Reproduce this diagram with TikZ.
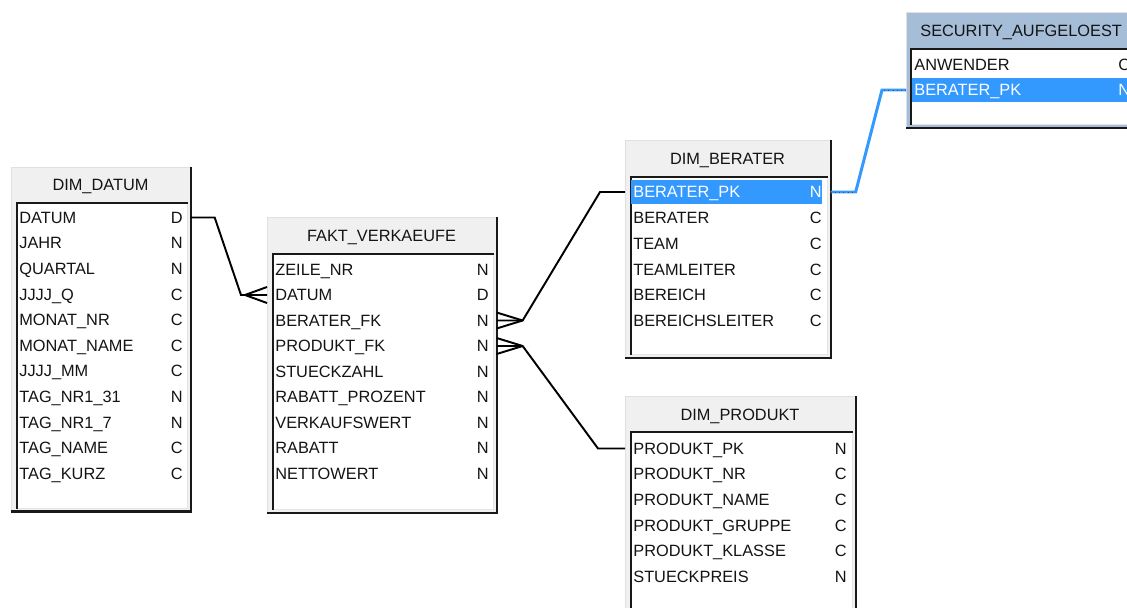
\documentclass[tikz,border=0pt]{standalone}
\usepackage{fontspec}
\setmainfont{Liberation Sans}
\usetikzlibrary{calc,positioning}
\definecolor{selblue}{HTML}{3399FF}
\definecolor{headgray}{HTML}{F0F0F0}
\definecolor{headblue}{HTML}{A6BDD7}

\begin{document}
\begin{tikzpicture}[
    x=0.02cm, y=-0.02cm,
    font=\fontsize{9.3}{11}\selectfont,
    tframe/.style={draw=black!12, fill=headgray, anchor=north west, inner sep=0pt},
    tbody/.style={draw=black!10, fill=white, anchor=north west, inner sep=0pt},
    thead/.style={inner sep=0pt, text height=8pt, text depth=1.4pt, text=black!92},
    field/.style={anchor=west, inner sep=0pt, text height=8pt, text depth=1.4pt, text=black!92},
    ftype/.style={field, anchor=east},
    edge3d/.style={line width=1.3pt, draw=black!90},
    link/.style={line width=1.1pt, draw=black},
    sellink/.style={line width=1.7pt, draw=selblue}
]
\clip (0,0) rectangle (1127,608);
\fill[white] (0,0) rectangle (1127,608);

% DIM_DATUM
\node[tframe, minimum width=3.58cm, minimum height=6.88cm] (datum) at (11,167) {};
\node[tbody, minimum width=3.4cm, minimum height=6.1cm] (datum-b) at (17,203) {};
\draw[edge3d] (datum.north east) |- (datum.south west);
\draw[edge3d] (datum-b.south west) |- (datum-b.north east);
\node[thead] (datum-h) at (100.5,185) {DIM\_DATUM};
\foreach \fname/\ftype [count=\i] in {DATUM/D, JAHR/N, QUARTAL/N, JJJJ\_Q/C, MONAT\_NR/C, MONAT\_NAME/C, JJJJ\_MM/C, TAG\_NR1\_31/N, TAG\_NR1\_7/N, TAG\_NAME/C, TAG\_KURZ/C} {
  \node[field] (datum-r\i) at (19,{217.5+25.6*(\i-1)}) {\fname};
  \node[ftype] (datum-t\i) at (183,{217.5+25.6*(\i-1)}) {\ftype};
}

% FAKT_VERKAEUFE
\node[tframe, minimum width=4.58cm, minimum height=5.9cm] (fakt) at (267,217) {};
\node[tbody, minimum width=4.4cm, minimum height=5.1cm] (fakt-b) at (273,254) {};
\draw[edge3d] (fakt.north east) |- (fakt.south west);
\draw[edge3d] (fakt-b.south west) |- (fakt-b.north east);
\node[thead] (fakt-h) at (381.5,236) {FAKT\_VERKAEUFE};
\foreach \fname/\ftype [count=\i] in {ZEILE\_NR/N, DATUM/D, BERATER\_FK/N, PRODUKT\_FK/N, STUECKZAHL/N, RABATT\_PROZENT/N, VERKAUFSWERT/N, RABATT/N, NETTOWERT/N} {
  \node[field] (fakt-r\i) at (275,{269.5+25.5*(\i-1)}) {\fname};
  \node[ftype] (fakt-t\i) at (489,{269.5+25.5*(\i-1)}) {\ftype};
}

% DIM_BERATER
\node[tframe, minimum width=4.1cm, minimum height=4.34cm] (berater) at (625,140) {};
\node[tbody, minimum width=3.92cm, minimum height=3.54cm] (berater-b) at (631,177) {};
\draw[edge3d] (berater.north east) |- (berater.south west);
\draw[edge3d] (berater-b.south west) |- (berater-b.north east);
\node[thead] (berater-h) at (727.5,159) {DIM\_BERATER};
\fill[selblue] (631,180) rectangle (822,204);
\node[field, text=white] (berater-r1) at (633,192) {BERATER\_PK};
\node[ftype, text=white] (berater-t1) at (822,192) {N};
\foreach \fname/\ftype [count=\i from 2] in {BERATER/C, TEAM/C, TEAMLEITER/C, BEREICH/C, BEREICHSLEITER/C} {
  \node[field] (berater-r\i) at (633,{192.5+25.6*(\i-1)}) {\fname};
  \node[ftype] (berater-t\i) at (822,{192.5+25.6*(\i-1)}) {\ftype};
}

% DIM_PRODUKT
\node[tframe, minimum width=4.6cm, minimum height=4.8cm] (produkt) at (625,396) {};
\node[tbody, minimum width=4.42cm, minimum height=4.0cm] (produkt-b) at (631,432) {};
\draw[edge3d] (produkt.north east) |- (produkt.south west);
\draw[edge3d] (produkt-b.south west) |- (produkt-b.north east);
\node[thead] (produkt-h) at (740,415) {DIM\_PRODUKT};
\foreach \fname/\ftype [count=\i] in {PRODUKT\_PK/N, PRODUKT\_NR/C, PRODUKT\_NAME/C, PRODUKT\_GRUPPE/C, PRODUKT\_KLASSE/C, STUECKPREIS/N} {
  \node[field] (produkt-r\i) at (633,{448.5+25.6*(\i-1)}) {\fname};
  \node[ftype] (produkt-t\i) at (847,{448.5+25.6*(\i-1)}) {\ftype};
}

% SECURITY_AUFGELOEST
\node[tframe, fill=headblue, minimum width=5.2cm, minimum height=2.3cm] (security) at (906,12) {};
\node[tbody, minimum width=5.0cm, minimum height=1.5cm] (security-b) at (911,49) {};
\draw[edge3d] (security.north east) |- (security.south west);
\draw[edge3d] (security-b.south west) |- (security-b.north east);
\node[thead, anchor=west] (security-h) at (920,31) {SECURITY\_AUFGELOEST};
\fill[selblue] (912,78) rectangle (1150,102);
\node[field] (security-r1) at (914,64.5) {ANWENDER};
\node[field] (security-t1) at (1118,64.5) {C};
\node[field, text=white] (security-r2) at (914,90) {BERATER\_PK};
\node[field, text=white] (security-t2) at (1118,90) {N};

% relations
\draw[link] (datum.east |- datum-r1) -- ++(24,0) -- ($(fakt.west |- fakt-r2)+(-26,0)$) -- (fakt.west |- fakt-r2);
\draw[link] ($(fakt.west |- fakt-r2)+(-22,0)$) -- ++(22,-8) ++(-22,8) -- ++(22,8);
\draw[link] (fakt.east |- fakt-r3) -- ++(26,0) -- ($(berater.west |- berater-r1)+(-25,0)$) -- (berater.west |- berater-r1);
\draw[link] ($(fakt.east |- fakt-r3)+(26,0)$) -- ++(-26,-8) ++(26,8) -- ++(-26,8);
\draw[link] (fakt.east |- fakt-r4) -- ++(26,0) -- ($(produkt.west |- produkt-r1)+(-27,0)$) -- (produkt.west |- produkt-r1);
\draw[link] ($(fakt.east |- fakt-r4)+(26,0)$) -- ++(-26,-8) ++(26,8) -- ++(-26,8);
\draw[sellink] (berater.east |- berater-r1) -- ++(25,0) -- ($(security.west |- security-r2)+(-24,0)$) -- (security.west |- security-r2);
\draw[dotted, black!70, thin] (berater.east |- berater-r1) -- ++(25,0);
\draw[dotted, black!70, thin] (security.west |- security-r2) -- ++(-24,0);
\end{tikzpicture}
\end{document}
